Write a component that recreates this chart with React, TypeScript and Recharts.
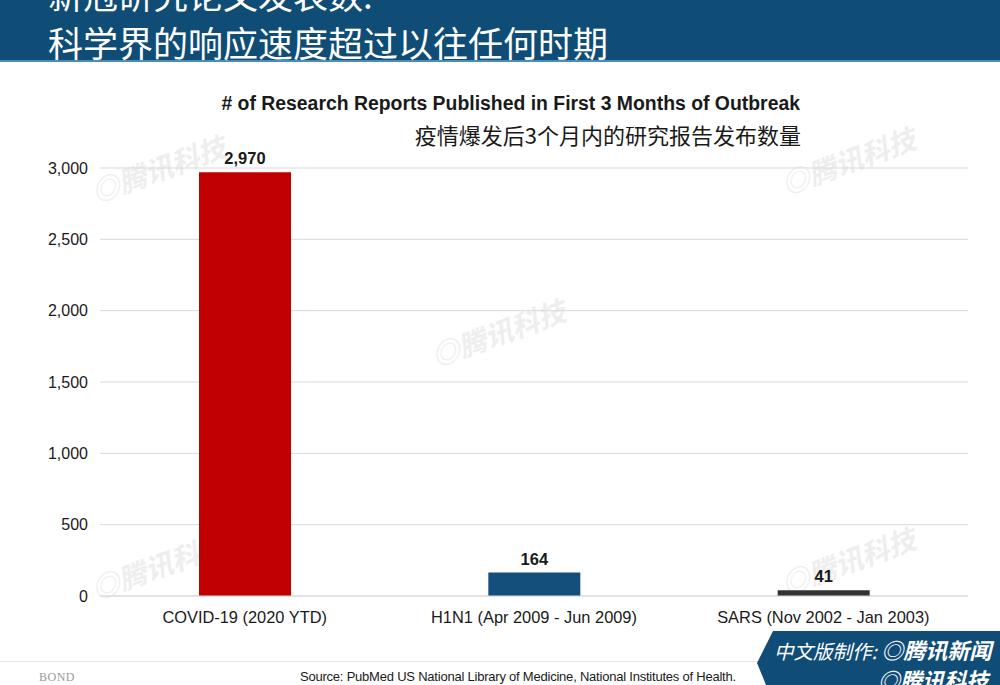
import { BarChart, Bar, XAxis, YAxis, CartesianGrid, LabelList, Cell } from 'recharts'

const categories = ['COVID-19 (2020 YTD)', 'H1N1 (Apr 2009 - Jun 2009)', 'SARS (Nov 2002 - Jan 2003)']
const reports = [2970, 164, 41]
const barColors = ['#c00000', '#134f7a', '#333333']
const yTicks = [0, 500, 1000, 1500, 2000, 2500, 3000]

const data = categories.map((name, i) => ({ name, reports: reports[i] }))

// faint rotated watermark positions
const watermarks = [
  { x: 88, y: 148 },
  { x: 778, y: 140 },
  { x: 428, y: 312 },
  { x: 88, y: 545 },
  { x: 778, y: 540 },
]

const fmt = (v: number) => v.toLocaleString('en-US')

const sans = 'Arial, "Liberation Sans", sans-serif'
const cjk = '"Noto Sans CJK SC", sans-serif'

export default function App() {
  return (
    <div
      style={{
        position: 'absolute',
        left: 0,
        top: 0,
        width: 1000,
        height: 685,
        overflow: 'hidden',
        background: '#ffffff',
        fontFamily: sans,
      }}
    >
      {/* header band */}
      <div style={{ position: 'absolute', left: 0, top: 0, width: 1000, height: 60, background: '#0f4d76' }} />
      <div style={{ position: 'absolute', left: 0, top: 60, width: 1000, height: 2, background: '#4d8db5' }} />
      <div
        style={{
          position: 'absolute',
          left: 48,
          top: -26,
          color: '#ffffff',
          fontFamily: cjk,
          fontSize: 35,
          lineHeight: '40px',
          whiteSpace: 'nowrap',
        }}
      >
        新冠研究论文发表数:
      </div>
      <div
        style={{
          position: 'absolute',
          left: 48,
          top: 22,
          color: '#ffffff',
          fontFamily: cjk,
          fontSize: 35,
          lineHeight: '40px',
          whiteSpace: 'nowrap',
        }}
      >
        科学界的响应速度超过以往任何时期
      </div>

      {watermarks.map((w, i) => (
        <div
          key={i}
          style={{
            position: 'absolute',
            left: w.x,
            top: w.y,
            color: '#eeeeee',
            fontFamily: cjk,
            fontSize: 28,
            fontWeight: 700,
            fontStyle: 'italic',
            transform: 'rotate(-20deg)',
            whiteSpace: 'nowrap',
          }}
        >
          ◎腾讯科技
        </div>
      ))}

      {/* chart titles */}
      <div
        style={{
          position: 'absolute',
          left: 0,
          width: 800,
          top: 92,
          textAlign: 'right',
          fontSize: 19.4,
          fontWeight: 700,
          color: '#1a1a1a',
          whiteSpace: 'nowrap',
        }}
      >
        # of Research Reports Published in First 3 Months of Outbreak
      </div>
      <div
        style={{
          position: 'absolute',
          left: 0,
          width: 801,
          top: 119,
          textAlign: 'right',
          fontSize: 22,
          fontFamily: cjk,
          color: '#1a1a1a',
          whiteSpace: 'nowrap',
          lineHeight: '30px',
        }}
      >
        疫情爆发后3个月内的研究报告发布数量
      </div>

      <div style={{ position: 'absolute', left: 0, top: 0 }}>
        <BarChart
          width={1000}
          height={685}
          data={data}
          margin={{ top: 168, right: 32, bottom: 59, left: 0 }}
          barSize={92}
        >
          <CartesianGrid vertical={false} stroke="#d9d9d9" />
          <XAxis
            dataKey="name"
            axisLine={{ stroke: '#d9d9d9' }}
            tickLine={false}
            tickMargin={9}
            tick={{ fill: '#1a1a1a', fontSize: 16.4, fontFamily: sans }}
            interval={0}
          />
          <YAxis
            domain={[0, 3000]}
            ticks={yTicks}
            width={100}
            axisLine={false}
            tickLine={false}
            tickSize={0}
            tickMargin={12}
            tickFormatter={fmt}
            tick={{ fill: '#1a1a1a', fontSize: 16, fontFamily: sans }}
          />
          <Bar dataKey="reports" isAnimationActive={false}>
            {data.map((d, i) => (
              <Cell key={d.name} fill={barColors[i]} />
            ))}
            <LabelList
              dataKey="reports"
              position="top"
              offset={8}
              formatter={(v: number) => fmt(v)}
              style={{ fill: '#1a1a1a', fontSize: 16.5, fontWeight: 700, fontFamily: sans }}
            />
          </Bar>
        </BarChart>
      </div>

      {/* footer */}
      <div style={{ position: 'absolute', left: 0, top: 661, width: 760, height: 1, background: '#e6e6e6' }} />
      <div
        style={{
          position: 'absolute',
          left: 39,
          top: 670,
          fontFamily: '"Liberation Serif", serif',
          fontSize: 12,
          color: '#9a9a9a',
          letterSpacing: 0.5,
        }}
      >
        BOND
      </div>
      <div
        style={{
          position: 'absolute',
          left: 300,
          top: 669,
          fontSize: 13,
          color: '#1a1a1a',
          letterSpacing: -0.22,
          whiteSpace: 'nowrap',
        }}
      >
        Source: PubMed US National Library of Medicine, National Institutes of Health.
      </div>
      <svg style={{ position: 'absolute', left: 0, top: 0 }} width={1000} height={685}>
        <polygon points="773,631 1000,631 1000,685 766,685 757,663" fill="#0f4d76" />
      </svg>
      <div
        style={{
          position: 'absolute',
          left: 774,
          top: 636,
          color: '#ffffff',
          fontFamily: cjk,
          fontSize: 19.5,
          fontStyle: 'italic',
          whiteSpace: 'nowrap',
          lineHeight: '26px',
        }}
      >
        中文版制作: <span style={{ fontWeight: 700, fontSize: 22 }}>◎腾讯新闻</span>
      </div>
      <div
        style={{
          position: 'absolute',
          left: 878,
          top: 666,
          color: '#ffffff',
          fontFamily: cjk,
          fontSize: 22,
          fontWeight: 700,
          fontStyle: 'italic',
          whiteSpace: 'nowrap',
          lineHeight: '26px',
        }}
      >
        ◎腾讯科技
      </div>
    </div>
  )
}
